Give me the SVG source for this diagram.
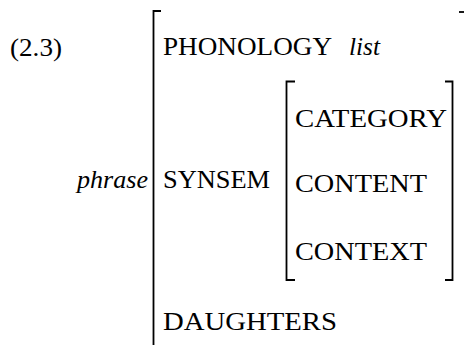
<svg xmlns="http://www.w3.org/2000/svg" width="464" height="345" viewBox="0 0 464 345">
  <style>
    .t { font-family: "Liberation Serif", "DejaVu Serif", serif; font-size: 25px; fill: #000; }
    .i { font-style: italic; }
    .br { fill: none; stroke: #000; stroke-width: 1.8; }
  </style>
  <rect width="464" height="345" fill="#fff"/>
  <text class="t" x="10" y="56" textLength="52" lengthAdjust="spacingAndGlyphs">(2.3)</text>

  <!-- outer feature structure -->
  <g id="avm-phrase">
    <path class="br" d="M161,11 H153.5 V345"/>
    <path class="br" d="M459,12 H464"/>
    <text class="t i" x="77" y="188" textLength="71" lengthAdjust="spacingAndGlyphs">phrase</text>
  </g>

  <g id="phonology">
    <text class="t" x="163" y="55" textLength="169" lengthAdjust="spacingAndGlyphs">PHONOLOGY</text>
    <text class="t i" x="349" y="55" textLength="31" lengthAdjust="spacingAndGlyphs">list</text>
  </g>

  <g id="synsem">
    <text class="t" x="163" y="188" textLength="107" lengthAdjust="spacingAndGlyphs">SYNSEM</text>
  </g>

  <!-- inner SYNSEM structure -->
  <g id="synsem-avm">
    <path class="br" d="M295,81.5 H286.5 V280 H295"/>
    <path class="br" d="M445,81.5 H452.5 V280 H445"/>
    <text class="t" x="295" y="127" textLength="152" lengthAdjust="spacingAndGlyphs">CATEGORY</text>
    <text class="t" x="295" y="192" textLength="132" lengthAdjust="spacingAndGlyphs">CONTENT</text>
    <text class="t" x="295" y="260" textLength="132" lengthAdjust="spacingAndGlyphs">CONTEXT</text>
  </g>

  <g id="daughters">
    <text class="t" x="163" y="330" textLength="174" lengthAdjust="spacingAndGlyphs">DAUGHTERS</text>
  </g>
</svg>
